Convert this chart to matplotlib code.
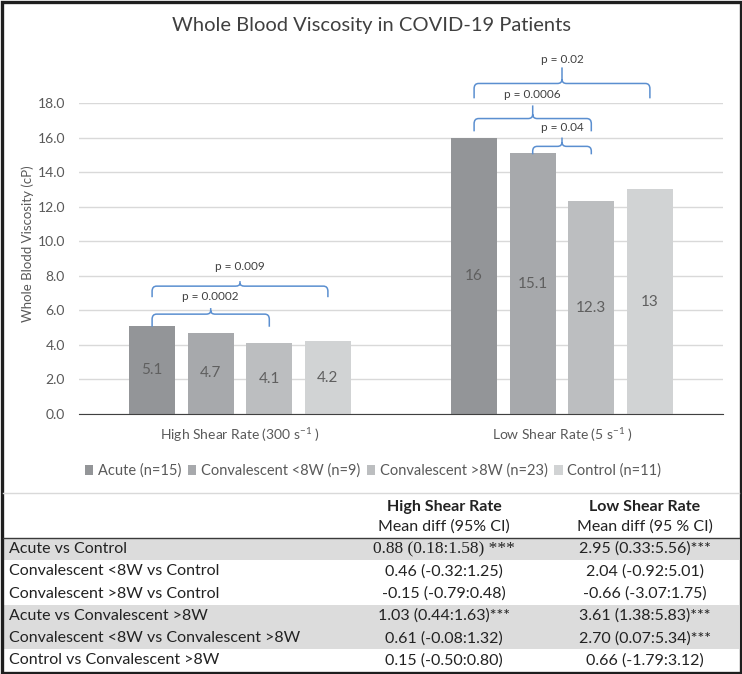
import matplotlib.pyplot as plt
import numpy as np
from matplotlib.path import Path
from matplotlib.patches import PathPatch, Rectangle
from matplotlib.ticker import FormatStrFormatter

plt.rcParams['font.family'] = ['Lato', 'DejaVu Sans']
plt.rcParams['mathtext.default'] = 'regular'

# data
groups = ['Acute (n=15)', 'Convalescent <8W (n=9)', 'Convalescent >8W (n=23)', 'Control (n=11)']
categories = ['High Shear Rate (300 s$^{-1}$ )', 'Low Shear Rate (5 s$^{-1}$ )']
high_shear = [5.1, 4.7, 4.1, 4.2]
low_shear = [16, 15.1, 12.3, 13]
bar_colors = ['#939598', '#a7a9ac', '#bcbec0', '#d1d3d4']

# significance brackets: (category, bar i, bar j, label, end, horizontal, tip, text)
brackets = [
    (0, 0, 2, 'p = 0.0002', 5.05, 5.78, 6.13, 6.8),
    (0, 0, 3, 'p = 0.009', 6.76, 7.40, 7.69, 8.55),
    (1, 1, 2, 'p = 0.04', 15.03, 15.49, 16.0, 16.6),
    (1, 0, 2, 'p = 0.0006', 16.36, 17.1, 17.86, 18.5),
    (1, 0, 3, 'p = 0.02', 18.27, 19.13, 20.06, 20.5),
]

# table
comparisons = ['Acute vs Control', 'Convalescent <8W vs Control', 'Convalescent >8W vs Control',
               'Acute vs Convalescent >8W', 'Convalescent <8W vs Convalescent >8W',
               'Control vs Convalescent >8W']
high_diff = ['0.88 (0.18:1.58) ***', '0.46 (-0.32:1.25)', '-0.15 (-0.79:0.48)',
             '1.03 (0.44:1.63)***', '0.61 (-0.08:1.32)', '0.15 (-0.50:0.80)']
low_diff = ['2.95 (0.33:5.56)***', '2.04 (-0.92:5.01)', '-0.66 (-3.07:1.75)',
            '3.61 (1.38:5.83)***', '2.70 (0.07:5.34)***', '0.66 (-1.79:3.12)']
shaded_rows = [0, 3, 4]

W, H = 742, 674
fig = plt.figure(figsize=(W / 100, H / 100), dpi=100)
ax = fig.add_axes([79 / W, 1 - 414 / H, 644 / W, 311 / H])

x = np.arange(len(categories))
step, width = 0.182, 0.142
offsets = (np.arange(len(groups)) - 1.5) * step
values = np.array([high_shear, low_shear])
handles = []
for k, g in enumerate(groups):
    b = ax.bar(x + offsets[k], values[:, k], width, color=bar_colors[k], label=g, zorder=2)
    handles.append(b)
    for xi, v in zip(x + offsets[k], values[:, k]):
        ax.text(xi, v / 2, '%g' % v, ha='center', va='center', fontsize=11, color='#5f5f5f', zorder=3)

ax.set_xlim(-0.5, 1.5)
ax.set_ylim(0, 18)
ax.set_yticks(np.arange(0, 19, 2))
ax.yaxis.set_major_formatter(FormatStrFormatter('%.1f'))
ax.set_xticks(x)
ax.set_xticklabels(categories)
ax.tick_params(axis='both', length=0, labelsize=10, labelcolor='#595959')
ax.tick_params(axis='y', pad=10)
ax.tick_params(axis='x', pad=9)
ax.grid(axis='y', color='#d9d9d9', lw=1, zorder=0)
ax.set_axisbelow(True)
for s in ['top', 'right', 'left']:
    ax.spines[s].set_visible(False)
ax.spines['bottom'].set_color('#404040')
ax.spines['bottom'].set_zorder(4)


def brace(cat, i, j, y_end, y_h, y_tip):
    x0 = cat + offsets[i]
    x1 = cat + offsets[j]
    xm = (x0 + x1) / 2
    rx = 0.014
    ry = min(0.3, (y_h - y_end) * 0.6)
    ryt = min(0.25, (y_tip - y_h) * 0.6)
    verts = [(x0, y_end), (x0, y_h - ry), (x0, y_h), (x0 + rx, y_h),
             (xm - rx, y_h), (xm, y_h), (xm, y_h + ryt), (xm, y_tip),
             (xm, y_h + ryt), (xm, y_h), (xm + rx, y_h),
             (x1 - rx, y_h), (x1, y_h), (x1, y_h - ry), (x1, y_end)]
    codes = [Path.MOVETO, Path.LINETO, Path.CURVE3, Path.CURVE3,
             Path.LINETO, Path.CURVE3, Path.CURVE3, Path.LINETO,
             Path.MOVETO, Path.CURVE3, Path.CURVE3,
             Path.LINETO, Path.CURVE3, Path.CURVE3, Path.LINETO]
    ax.add_patch(PathPatch(Path(verts, codes), fill=False, edgecolor='#5b8fd0',
                           lw=1.1, clip_on=False, zorder=5))
    return xm


for cat, i, j, lab, y_end, y_h, y_tip, y_txt in brackets:
    xm = brace(cat, i, j, y_end, y_h, y_tip)
    ax.text(xm, y_txt, lab, ha='center', va='center', fontsize=8.5, color='#404040', clip_on=False)

fig.text(371 / W, 1 - 26 / H, 'Whole Blood Viscosity in COVID-19 Patients', ha='center', va='center',
         fontsize=14.5, color='#404040')
fig.text(28 / W, 1 - 244 / H, 'Whole Blodd Viscosity (cP)', rotation=90, ha='center', va='center',
         fontsize=9.5, color='#595959')

fig.legend(handles=handles, labels=groups, loc='center', bbox_to_anchor=(373 / W, 1 - 471 / H),
           ncol=4, frameon=False, fontsize=10.5, handlelength=0.6, handleheight=0.6,
           handletextpad=0.3, columnspacing=0.45, labelcolor='#595959')

# table and frame drawn on an overlay in pixel units
ov = fig.add_axes([0, 0, 1, 1], zorder=-1)
ov.set_xlim(0, W)
ov.set_ylim(H, 0)
ov.axis('off')
ov.plot([3, 739], [493, 493], color='#d9d9d9', lw=1)
row_y = 549 + 22.3 * np.arange(len(comparisons))
for r in shaded_rows:
    ov.add_patch(Rectangle((3, row_y[r] - 11.2), 736, 22.3, color='#dcdcdc', lw=0))
ov.plot([3, 739], [538, 538], color='#3a3a3a', lw=1)
ov.add_patch(Rectangle((1.5, 1.5), W - 3, H - 3, fill=False, edgecolor='#1e1e1e', lw=2.4))

col_high, col_low = 444, 645
tkw = dict(fontsize=11.5, color='#222222', va='center')
ov.text(col_high, 507, 'High Shear Rate', ha='center', fontweight='bold', **tkw)
ov.text(col_low, 507, 'Low Shear Rate', ha='center', fontweight='bold', **tkw)
ov.text(col_high, 527, 'Mean diff (95% CI)', ha='center', **tkw)
ov.text(col_low, 527, 'Mean diff (95 % CI)', ha='center', **tkw)
for r, (c, hd, ld) in enumerate(zip(comparisons, high_diff, low_diff)):
    ov.text(9, row_y[r], c, ha='left', **tkw)
    if r == 0:
        ov.text(col_high, row_y[r], hd, ha='center', fontsize=12.5, color='#222222', va='center',
                family='Liberation Serif')
    else:
        ov.text(col_high, row_y[r], hd, ha='center', **tkw)
    ov.text(col_low, row_y[r], ld, ha='center', **tkw)

fig.savefig('out.png', dpi=100)
